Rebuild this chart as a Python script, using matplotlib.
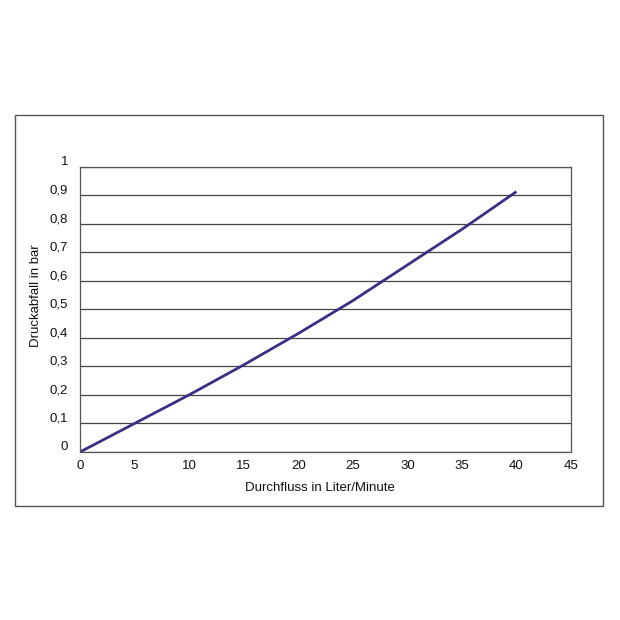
import matplotlib
matplotlib.use("Agg")
import matplotlib.pyplot as plt
from matplotlib.patches import Rectangle
from matplotlib.transforms import ScaledTranslation

# Durchfluss (l/min) vs. Druckabfall (bar)
flow = [0, 5, 10, 15, 20, 25, 30, 35, 40]
dp = [0.0, 0.10, 0.20, 0.305, 0.415, 0.53, 0.655, 0.78, 0.912]
x_ticks = [0, 5, 10, 15, 20, 25, 30, 35, 40, 45]
y_ticks = [0, 0.1, 0.2, 0.3, 0.4, 0.5, 0.6, 0.7, 0.8, 0.9, 1.0]
y_labels = ["0", "0,1", "0,2", "0,3", "0,4", "0,5", "0,6", "0,7", "0,8", "0,9", "1"]

plt.rcParams["font.family"] = ["Liberation Sans", "DejaVu Sans"]
W = H = 620
fig = plt.figure(figsize=(6.2, 6.2), dpi=100)

# outer frame
fig.patches.append(Rectangle((15 / W, 1 - 506 / H), 588 / W, 391 / H,
                             transform=fig.transFigure, fill=False,
                             edgecolor="#555555", lw=1.0))

ax = fig.add_axes([80 / W, 1 - 452 / H, 491 / W, 285.5 / H])
ax.plot(flow, dp, color="#3b2f85", lw=2.0, solid_capstyle="butt")
ax.set_xlim(0, 45); ax.set_ylim(0, 1)
ax.set_xticks(x_ticks); ax.set_yticks(y_ticks)
ax.set_yticklabels(y_labels)
ax.tick_params(length=0, labelsize=9.5, colors="#111111")
ax.tick_params(axis="y", pad=8.5)
ax.tick_params(axis="x", pad=6)
ax.grid(axis="y", color="#444444", lw=0.9)
ax.set_axisbelow(True)
for s in ax.spines.values():
    s.set_color("#555555"); s.set_linewidth(0.9)
shift = ScaledTranslation(0, 6 / 100, fig.dpi_scale_trans)
for lab in ax.get_yticklabels():
    lab.set_transform(lab.get_transform() + shift)

fig.text(320 / W, 1 - 488 / H, "Durchfluss in Liter/Minute", ha="center", va="center",
         fontsize=9.5, color="#111111")
fig.text(36 / W, 1 - 296 / H, "Druckabfall in bar", ha="center", va="center",
         rotation=90, fontsize=9.5, color="#111111")

fig.savefig("out.png", dpi=100)
